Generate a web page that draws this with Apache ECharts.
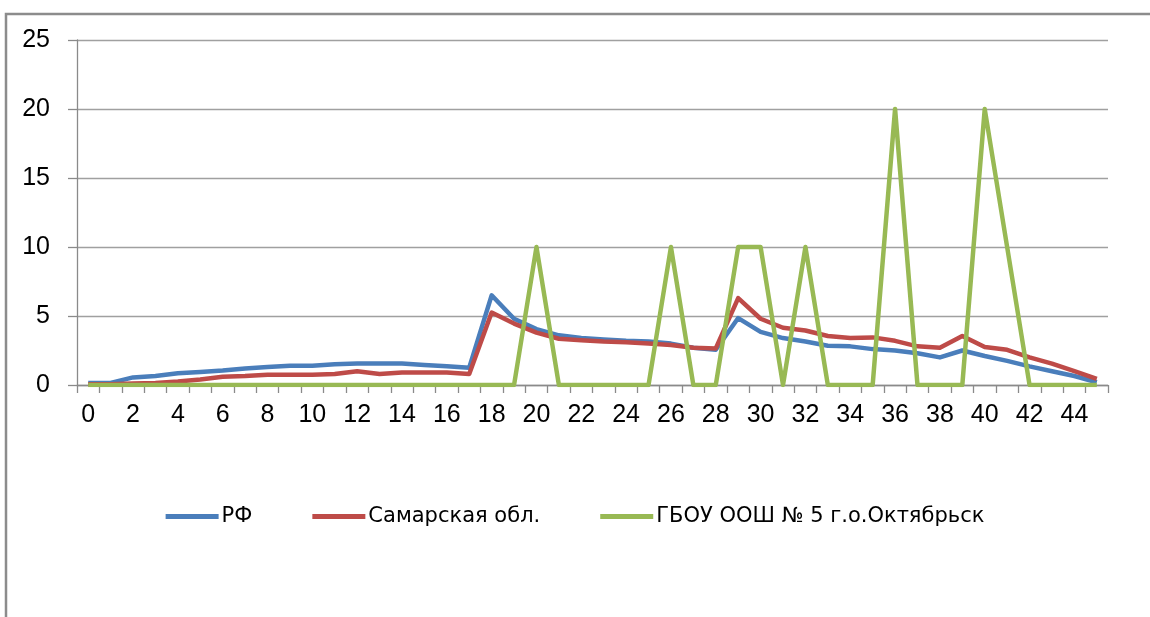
<!DOCTYPE html>
<html>
<head>
<meta charset="utf-8">
<script src="https://cdn.jsdelivr.net/npm/echarts@6.0.0/dist/echarts.min.js"></script>
<style>
  html, body { margin: 0; padding: 0; background: #fff; }
  #chart { width: 1150px; height: 617px; }
</style>
</head>
<body>
<div id="chart"></div>
<script>
const categories = ['0', '1', '2', '3', '4', '5', '6', '7', '8', '9', '10', '11', '12', '13', '14', '15',
  '16', '17', '18', '19', '20', '21', '22', '23', '24', '25', '26', '27', '28', '29', '30', '31',
  '32', '33', '34', '35', '36', '37', '38', '39', '40', '41', '42', '43', '44', '45']

const rfValues = [0.15, 0.15, 0.55, 0.65, 0.85, 0.95, 1.05, 1.2, 1.3, 1.4, 1.4, 1.5, 1.55, 1.55, 1.55, 1.45,
  1.35, 1.25, 6.5, 4.8, 4.05, 3.6, 3.4, 3.3, 3.2, 3.15, 3.0, 2.7, 2.55, 4.85, 3.85, 3.4,
  3.15, 2.85, 2.8, 2.6, 2.5, 2.3, 2.0, 2.5, 2.1, 1.75, 1.35, 1.0, 0.65, 0.2]

const samaraValues = [0.05, 0.05, 0.1, 0.15, 0.25, 0.4, 0.6, 0.65, 0.75, 0.75, 0.75, 0.8, 1.0, 0.8, 0.9, 0.9,
  0.9, 0.8, 5.25, 4.45, 3.8, 3.35, 3.25, 3.15, 3.1, 3.0, 2.9, 2.7, 2.65, 6.3, 4.8, 4.15,
  3.95, 3.55, 3.4, 3.45, 3.2, 2.8, 2.7, 3.55, 2.75, 2.55, 2.0, 1.55, 1.0, 0.45]

const schoolValues = [0, 0, 0, 0, 0, 0, 0, 0, 0, 0, 0, 0, 0, 0, 0, 0,
  0, 0, 0, 0, 10, 0, 0, 0, 0, 0, 10, 0, 0, 10, 10, 0,
  10, 0, 0, 0, 20, 0, 0, 0, 20, 10, 0, 0, 0, 0]

const seriesNames = ['РФ', 'Самарская обл.', 'ГБОУ ООШ № 5 г.о.Октябрьск']
const seriesColors = ['#4a7ebb', '#be4b48', '#98b954']

const axisFont = '"Liberation Sans Narrow", "Liberation Sans", Arial, sans-serif'

const chart = echarts.init(document.getElementById('chart'))

function makeLine(name, data, color) {
  return {
    name,
    type: 'line',
    data,
    showSymbol: false,
    symbol: 'none',
    animation: false,
    lineStyle: { color, width: 4.5, join: 'round' },
    itemStyle: { color },
  }
}

const option = {
  backgroundColor: '#fff',
  animation: false,
  graphic: [
    {
      type: 'rect',
      shape: { x: 6, y: 14, width: 1300, height: 800 },
      style: { fill: 'none', stroke: '#8c8c8c', lineWidth: 2.5 },
      silent: true,
    },
  ],
  grid: {
    left: 77,
    right: 42,
    top: 40,
    bottom: 232,
  },
  legend: {
    data: seriesNames,
    left: 'center',
    top: 501,
    icon: 'rect',
    itemWidth: 53,
    itemHeight: 5,
    itemGap: 60,
    textStyle: {
      color: '#000',
      fontSize: 21,
      fontFamily: 'DejaVu Sans, sans-serif',
      padding: [0, 0, 0, -2],
    },
  },
  xAxis: {
    type: 'category',
    data: categories,
    boundaryGap: true,
    axisLine: { show: true, lineStyle: { color: '#8a8a8a', width: 1.3 } },
    axisTick: {
      show: true,
      interval: 0,
      length: 8,
      lineStyle: { color: '#8a8a8a', width: 1.3 },
    },
    axisLabel: {
      interval: 1,
      color: '#000',
      fontSize: 25,
      fontFamily: axisFont,
      margin: 18,
    },
    splitLine: { show: false },
  },
  yAxis: {
    type: 'value',
    min: 0,
    max: 25,
    interval: 5,
    axisLine: { show: true, lineStyle: { color: '#8a8a8a', width: 1.3 } },
    axisTick: { show: true, length: 9, lineStyle: { color: '#8a8a8a', width: 1.3 } },
    axisLabel: {
      color: '#000',
      fontSize: 25,
      fontFamily: axisFont,
      margin: 27,
    },
    splitLine: { show: true, lineStyle: { color: '#a0a0a0', width: 1.3 } },
  },
  series: [
    makeLine(seriesNames[0], rfValues, seriesColors[0]),
    makeLine(seriesNames[1], samaraValues, seriesColors[1]),
    makeLine(seriesNames[2], schoolValues, seriesColors[2]),
  ],
}

chart.setOption(option)
</script>
</body>
</html>
